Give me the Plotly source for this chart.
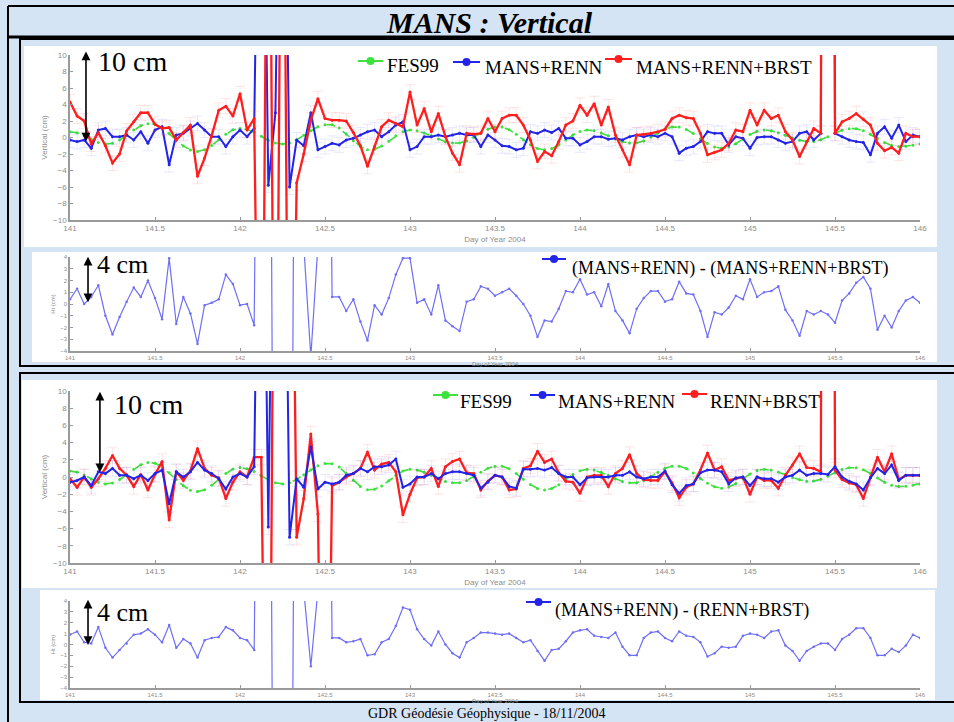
import numpy as np
import plotly.graph_objects as go

W, H = 954, 722

# ---------------- data (hourly solutions, day of year 2004) ----------------
day = np.round(141 + np.arange(121) / 24.0, 5)

fes99 = [0.7, 0.57, 0.22, -0.23, -0.62, -0.8,
         -0.7, -0.3, 0.3, 0.9, 1.43, 1.68,
         1.61, 1.17, 0.48, -0.3, -1.02, -1.53,
         -1.7, -1.48, -0.97, -0.27, 0.4, 0.93, 1.1,
         0.97, 0.63, 0.15, -0.33, -0.67, -0.8,
         -0.66, -0.27, 0.26, 0.83, 1.31, 1.56,
         1.54, 1.15, 0.42, -0.38, -1.1, -1.47,
         -1.43, -1.04, -0.44, 0.2, 0.71, 0.9,
         0.81, 0.55, 0.2, -0.19, -0.51, -0.68,
         -0.67, -0.41, 0.04, 0.56, 1.01, 1.26,
         1.26, 0.95, 0.4, -0.27, -0.88, -1.33, -1.5,
         -1.34, -0.9, -0.3, 0.3, 0.73, 0.9,
         0.81, 0.55, 0.2, -0.19, -0.51, -0.68,
         -0.67, -0.41, 0.04, 0.56, 1.01, 1.26,
         1.26, 0.98, 0.47, -0.16, -0.73, -1.14, -1.3,
         -1.15, -0.75, -0.2, 0.35, 0.75, 0.9,
         0.82, 0.59, 0.28, -0.05, -0.33, -0.48,
         -0.47, -0.27, 0.09, 0.51, 0.87, 1.07,
         1.07, 0.83, 0.4, -0.13, -0.62, -0.97, -1.1,
         -1.07, -0.95, -0.8]

# top panel : MANS+RENN and MANS+RENN+BRST (cm)
mans_renn_a = [-0.3, -0.5, -0.3, -1.3, 0.9, 1.1, 0.1, 0.1, 0.3, -0.3,
               0.7, -0.7, 0.9, 1.3, -3.3, 0.3, 0.5, 1.1, 1.7, 0.9,
               0.1, 0.1, -1.1, 0.1, 0.9, 0.1, 1.1, 60, -5.8, 3.0,
               60, -6.0, -0.3, -1.0, 3.0, -1.5, -1.1, -0.7, -0.9, -0.3,
               -0.1, 0.3, 0.7, 0.9, 0.1, 0.7, 1.5, 1.9, -1.5, -1.1,
               0.1, 0.1, 0.3, 0.1, 0.3, 0.5, 0.3, 0.3, -1.1, 0.3,
               -0.3, -1.0, -1.1, -1.5, -1.3, 0.7, 0.5, 0.9, 0.6, 1.1,
               -0.1, -0.1, -0.9, -0.5, 0.1, 0.1, -0.2, -0.1, -0.3, 0.1,
               0.3, 0.1, 0.3, 0.1, 0.5, 0.1, -1.9, -1.3, -1.1, -0.5,
               0.7, 0.5, 0.5, -0.9, 0.1, -0.1, -1.3, 0.0, 0.1, 0.1,
               -0.3, -0.7, -0.5, 0.5, 0.7, -0.3, 0.5, 300, 0.5, 0.1,
               -0.3, -0.5, -0.6, -2.1, 0.5, 1.3, -0.1, 1.5, -0.5, 0.3, 0.1]

mans_renn_brst = [4.3, 2.6, 2.0, -0.8, 0.6, -1.0, -3.1, -2.0, 0.8, 1.9,
                  3.0, 3.0, 1.6, 1.1, 1.2, -0.3, 0.6, 1.5, -4.7, -2.5,
                  0.2, 3.3, 3.8, 2.6, 5.3, 0.9, 2.3, -60, 60, -60,
                  60, -60, -5.5, -2.0, 2.1, 4.7, 2.3, 2.1, 2.1, 2.0,
                  0.6, -1.0, -3.5, -1.1, 1.3, 2.1, 1.7, 1.3, 5.5, 1.5,
                  3.5, 0.7, 2.9, 0.1, -1.9, -3.3, 0.5, 0.4, 0.5, 2.3,
                  0.7, 2.3, 2.7, 2.7, 1.5, -0.3, -2.9, -1.7, -2.2, -0.5,
                  1.5, 2.0, 3.9, 2.7, 4.1, 1.5, 3.7, 0.3, -1.5, -3.3,
                  0.3, 0.4, 0.5, 0.7, 1.0, 2.3, 2.7, 2.4, 2.3, 0.5,
                  -2.1, -1.8, -1.5, -0.7, 0.9, 0.7, 3.3, 1.5, 3.3, 2.3,
                  2.7, 0.7, -0.3, -2.3, -0.5, 1.1, 0.5, 300, 0.5, 1.9,
                  2.3, 2.9, 2.2, 1.5, -0.7, -1.6, -1.2, -1.9, 0.5, 0.1, 0.1]

diff_a = [0.4, 1.3, 0.0, 0.6, 1.6, -1.0, -2.6, -1.1, 0.2, 1.4,
          0.6, 2.0, 0.5, -1.3, 3.9, -1.7, 0.6, -0.8, -3.4, -0.1,
          0.1, 0.4, 2.5, 1.7, -0.1, 0.0, -1.8, 60, 60, -60,
          -60, -60, 60, 5, -4.5, 5, 60, 0.6, 0.6, -0.6,
          0.4, -1.5, -3.1, -0.1, -0.9, 0.5, 2.5, 3.9, 3.9, 0.1,
          0.4, -0.9, 1.6, -1.4, -1.9, -2.3, 0.2, 0.4, 1.5, 1.3,
          0.7, 1.0, 1.3, 0.7, 0.0, -1.0, -2.8, -1.4, -1.5, -0.4,
          1.1, 1.0, 2.1, 0.8, 1.0, -0.2, 1.7, -0.6, -1.4, -2.5,
          -0.4, 0.5, 1.1, 1.1, 0.2, 0.4, 1.9, 0.9, 0.8, -0.6,
          -2.8, -0.7, -0.9, -0.3, 0.7, 0.4, 2.1, 0.6, 1.0, 1.1,
          1.5, -0.5, -1.4, -2.7, -0.6, -0.9, -0.6, -0.9, -1.6, 0.3,
          0.9, 1.8, 2.3, 1.3, -2.2, -1.0, -2.0, -0.6, 0.3, 0.6, 0.1]

# bottom panel : MANS+RENN and RENN+BRST (cm)
mans_renn_b = [-0.6, -0.4, 0.0, -1.0, 0.6, 0.4, 1.0, 0.2, 0.2, -0.2,
               0.2, -0.4, 0.4, 0.8, -3.1, 0.6, 0.0, 0.6, 1.7, 0.8,
               0.4, -0.2, -1.4, 0.0, 0.4, 0.0, 1.2, 60, -5.8, 60,
               60, -7.0, -0.2, -1.2, 3.5, -1.4, -0.6, -0.8, -0.6, 0.2,
               0.4, 1.0, 0.6, 1.2, 1.2, 1.4, 2.1, -1.2, -0.8, 0.0,
               0.0, 0.4, -0.2, 0.4, 0.6, 0.6, 0.4, 0.2, -1.3, -0.6,
               0.2, 0.0, -1.1, -1.3, 0.9, 0.9, 1.0, 0.8, 1.1, 0.4,
               0.0, 0.0, -0.9, -0.1, 0.0, 0.0, 0.0, 0.2, 0.2, 0.6,
               0.0, -0.2, 0.0, 0.0, 0.7, -0.9, -1.9, -1.0, -0.8, 0.5,
               0.8, 0.8, 0.6, -0.8, -0.1, 0.0, -1.0, 0.0, -0.2, -0.2,
               -0.6, 0.0, 0.2, 0.8, 0.2, 0.4, 0.4, 0.3, 1.2, 0.0,
               -0.5, -0.8, -1.5, -0.1, 1.0, 0.4, 1.4, -0.4, 0.2, 0.2, 0.2]

renn_brst = [-0.2, -1.2, 0.0, -1.2, -0.2, 1.0, 2.5, 1.0, 0.2, -1.1,
             0.3, -1.5, 0.3, 1.8, -5.0, 0.6, -0.4, 0.7, 3.3, 1.0,
             0.2, -0.1, -2.5, -0.6, 0.6, 0.0, 2.3, 2.3, -60, 60,
             60, 60, -7.0, -2.5, 5.0, -4.3, -60, -1.0, -0.6, 0.0,
             0.4, 1.0, 2.9, 0.8, 1.5, 1.7, 0.6, -4.4, -2.0, -0.1,
             0.0, 1.0, -1.1, 1.2, 1.8, 2.1, 0.5, 0.4, -1.5, -0.5,
             0.2, 0.0, -1.5, -1.4, 1.0, 1.3, 3.0, 1.7, 2.1, 0.5,
             -0.5, -0.6, -1.9, 0.0, 0.2, 0.2, -1.1, 0.4, 1.0, 2.6,
             0.4, -0.3, -0.4, -0.4, 0.6, -0.7, -2.4, -1.2, -0.8, 0.8,
             2.8, 0.8, 1.2, -0.4, -0.2, 0.0, -2.0, 0.0, -0.4, -0.4,
             -1.3, 0.2, 1.4, 2.7, 1.1, 1.0, 0.6, 300, 0.8, -0.3,
             -0.7, -0.9, -2.5, 0.0, 2.3, 0.6, 2.7, -0.3, 0.2, 0.2, 0.2]

diff_b = [0.9, 1.2, 0.2, 0.1, 1.6, -0.3, -1.2, -0.5, 0.1, 0.9,
          1.0, 1.4, 0.9, 0.2, 1.8, -0.3, 0.5, 0.1, -1.2, 0.4,
          0.6, 0.7, 1.6, 1.3, 0.6, 0.4, -0.5, 60, 60, -60,
          -60, -60, 60, 5, -2.0, 5, 60, 0.6, 0.6, 0.2,
          0.3, 0.5, -1.0, -0.9, 0.2, 0.5, 1.7, 3.4, 3.2, 1.4,
          0.5, -0.1, 1.2, 0.0, -0.8, -1.2, 0.2, 0.6, 1.1, 1.1,
          1.0, 0.9, 1.0, 0.6, 0.2, 0.4, -0.6, -1.5, -0.5, -0.4,
          0.3, 1.1, 1.3, 1.4, 0.8, 0.7, 0.6, 1.1, -0.2, -1.0,
          -1.0, 0.6, 1.1, 1.2, 0.6, 0.3, 1.2, 0.8, 0.7, 0.2,
          -1.1, -0.8, -0.2, -0.3, -0.2, 0.8, 1.0, 0.9, 0.6, 1.2,
          1.3, -0.1, -0.6, -1.5, -0.6, -0.2, 0.1, 0.1, -0.5, 0.5,
          0.9, 1.5, 1.5, 0.6, -1.0, -1.0, -0.4, -0.7, -0.1, 0.9, 0.6]

x_ticks = [141, 141.5, 142, 142.5, 143, 143.5, 144, 144.5, 145, 145.5, 146]
x_tick_labels = ["141", "141.5", "142", "142.5", "143", "143.5",
                 "144", "144.5", "145", "145.5", "146"]
y_ticks_main = [-10, -8, -6, -4, -2, 0, 2, 4, 6, 8, 10]
y_ticks_diff = [-4, -3, -2, -1, 0, 1, 2, 3, 4]

# ---------------- helpers (pixel -> paper) ----------------
def PX(x):
    return x / W


def PY(y):
    return 1 - y / H


GREEN = "#3de23d"
BLUE = "#2424e8"
RED = "#ff1e1e"
DIFF = "#6f6ff5"
SERIF = "Liberation Serif"
SANS = "Liberation Sans"

fig = go.Figure()


def add_line(x, y, name, color, width, xa, ya, dash="solid", msize=3, err=None):
    kw = {}
    if err is not None:
        kw["error_y"] = dict(type="constant", value=0.9, width=5,
                             thickness=0.8, color=err)
    fig.add_trace(go.Scatter(
        x=x, y=y, name=name, mode="lines+markers", xaxis=xa, yaxis=ya,
        line=dict(color=color, width=width, dash=dash),
        marker=dict(color=color, size=msize), showlegend=False, **kw))


# panel 1
add_line(day, fes99, "FES99", GREEN, 1.6, "x", "y", dash="dash", msize=3)
add_line(day, mans_renn_a, "MANS+RENN", BLUE, 2, "x", "y",
         err="rgba(80,80,255,0.16)")
add_line(day, mans_renn_brst, "MANS+RENN+BRST", RED, 2.3, "x", "y",
         err="rgba(255,70,70,0.18)")
# panel 2
add_line(day, diff_a, "(MANS+RENN) - (MANS+RENN+BRST)", DIFF, 1.2, "x2", "y2",
         msize=2.5)
# panel 3
add_line(day, fes99, "FES99", GREEN, 1.6, "x3", "y3", dash="dash", msize=3)
add_line(day, renn_brst, "RENN+BRST", RED, 2.3, "x3", "y3",
         err="rgba(255,70,70,0.18)")
add_line(day, mans_renn_b, "MANS+RENN", BLUE, 2, "x3", "y3",
         err="rgba(80,80,255,0.16)")
# panel 4
add_line(day, diff_b, "(MANS+RENN) - (RENN+BRST)", DIFF, 1.2, "x4", "y4",
         msize=2.5)

X_DOM = [PX(70), PX(920)]
AX_COL = "#9a9a9a"
LBL_COL = "#8c8c8c"


def xaxis(anchor, fs, standoff):
    return dict(domain=X_DOM, range=[141, 146], anchor=anchor,
                tickvals=x_ticks, ticktext=x_tick_labels, ticks="inside",
                ticklen=3, tickcolor=AX_COL, showline=True, linecolor=AX_COL,
                linewidth=1.5, showgrid=False, zeroline=False,
                tickfont=dict(size=fs, color=LBL_COL, family=SANS),
                title=dict(text="Day of Year 2004", standoff=standoff,
                           font=dict(size=fs, color=LBL_COL, family=SANS)),
                automargin=False, fixedrange=True)


def yaxis(anchor, dom, rng, vals, fs, title):
    return dict(domain=dom, range=rng, anchor=anchor, tickvals=vals,
                ticks="inside", ticklen=3, tickcolor=AX_COL, showline=True,
                linecolor=AX_COL, linewidth=1.5, showgrid=False,
                zeroline=False,
                tickfont=dict(size=fs, color=LBL_COL, family=SANS),
                title=dict(text=title, standoff=4,
                           font=dict(size=fs, color=LBL_COL, family=SANS)),
                automargin=False, fixedrange=True)


layout = dict(
    width=W, height=H, margin=dict(l=0, r=0, t=0, b=0),
    paper_bgcolor="#d5e4f4", plot_bgcolor="rgba(0,0,0,0)",
    xaxis=xaxis("y", 8, 4),
    yaxis=yaxis("x", [PY(220), PY(55)], [-10, 10], y_ticks_main, 8,
                "Vertical (cm)"),
    xaxis2=xaxis("y2", 6, 0),
    yaxis2=yaxis("x2", [PY(351), PY(257)], [-4, 4], y_ticks_diff, 6,
                 "Ht (cm)"),
    xaxis3=xaxis("y3", 8, 4),
    yaxis3=yaxis("x3", [PY(563), PY(391)], [-10, 10], y_ticks_main, 8,
                  "Vertical (cm)"),
    xaxis4=xaxis("y4", 6, 0),
    yaxis4=yaxis("x4", [PY(688), PY(601)], [-4, 4], y_ticks_diff, 6,
                  "Ht (cm)"),
)

shapes = []


def rect(x0, y0, x1, y1, fill=None, lw=0, color="black", layer="below"):
    shapes.append(dict(type="rect", xref="paper", yref="paper",
                       x0=PX(x0), x1=PX(x1), y0=PY(y1), y1=PY(y0),
                       fillcolor=fill if fill else "rgba(0,0,0,0)",
                       line=dict(width=lw, color=color), layer=layer))


def hline(x0, x1, y, lw):
    shapes.append(dict(type="line", xref="paper", yref="paper",
                       x0=PX(x0), x1=PX(x1), y0=PY(y), y1=PY(y),
                       line=dict(width=lw, color="black")))


def vline(x, y0, y1, lw):
    shapes.append(dict(type="line", xref="paper", yref="paper",
                       x0=PX(x), x1=PX(x), y0=PY(y0), y1=PY(y1),
                       line=dict(width=lw, color="black")))


# white plot boxes
rect(24, 46, 937, 247, fill="white")
rect(32, 252, 937, 362, fill="white")
rect(22, 380, 937, 588, fill="white")
rect(40, 590, 935, 700, fill="white")
# frames
hline(8, 954, 6, 2)
vline(8, 6, 722, 2)
hline(8, 954, 37, 3)
rect(20, 39, 960, 366, lw=2, layer="above")
rect(20, 373, 960, 702, lw=2, layer="above")


def glyph(x0, x1, y, color):
    shapes.append(dict(type="line", xref="paper", yref="paper",
                       x0=PX(x0), x1=PX(x1), y0=PY(y), y1=PY(y),
                       line=dict(width=2, color=color)))
    cx = (x0 + x1) / 2
    shapes.append(dict(type="circle", xref="paper", yref="paper",
                       x0=PX(cx - 4), x1=PX(cx + 4), y0=PY(y + 4),
                       y1=PY(y - 4), fillcolor=color,
                       line=dict(width=0, color=color)))


glyph(358, 383, 61, GREEN)
glyph(453, 480, 62, BLUE)
glyph(605, 632, 59, RED)
glyph(542, 566, 259, BLUE)
glyph(433, 458, 395, GREEN)
glyph(530, 555, 395, BLUE)
glyph(682, 707, 394, RED)
glyph(526, 551, 602, BLUE)

annotations = []


def text(x, y, s, size, anchor="left", family=SERIF):
    annotations.append(dict(x=PX(x), y=PY(y), xref="paper", yref="paper",
                            text=s, showarrow=False, xanchor=anchor,
                            yanchor="middle",
                            font=dict(size=size, color="black",
                                      family=family)))


text(490, 22, "<b><i>MANS : Vertical</i></b>", 30, anchor="center")
text(487, 713, "GDR Géodésie Géophysique - 18/11/2004", 14, anchor="center")

text(385, 65, "FES99", 19)
text(483, 67, "MANS+RENN", 19)
text(634, 67, "MANS+RENN+BRST", 19)
text(570, 268, "(MANS+RENN) - (MANS+RENN+BRST)", 18)
text(458, 401, "FES99", 19)
text(556, 401, "MANS+RENN", 19)
text(708, 401, "RENN+BRST", 19)
text(553, 610, "(MANS+RENN) - (RENN+BRST)", 18)

text(96, 62, "10 cm", 28)
text(95, 264, "4 cm", 26)
text(112, 404, "10 cm", 28)
text(95, 612, "4 cm", 26)


def arrow(xr, yr, xv, y_top, y_bot):
    annotations.append(dict(x=xv, y=y_bot, ax=xv, ay=y_top, xref=xr,
                            yref=yr, axref=xr, ayref=yr, text="",
                            showarrow=True, arrowhead=2, startarrowhead=2,
                            arrowside="end+start", arrowsize=1.1,
                            startarrowsize=1.1, arrowwidth=1.6,
                            arrowcolor="black"))


arrow("x", "y", 141.094, 10.6, -0.5)
arrow("x2", "y2", 141.106, 4.15, 0.15)
arrow("x3", "y3", 141.176, 10.1, 0.55)
arrow("x4", "y4", 141.106, 4.25, -0.05)

fig.update_layout(**layout, shapes=shapes, annotations=annotations)
fig.write_html("out.html")
